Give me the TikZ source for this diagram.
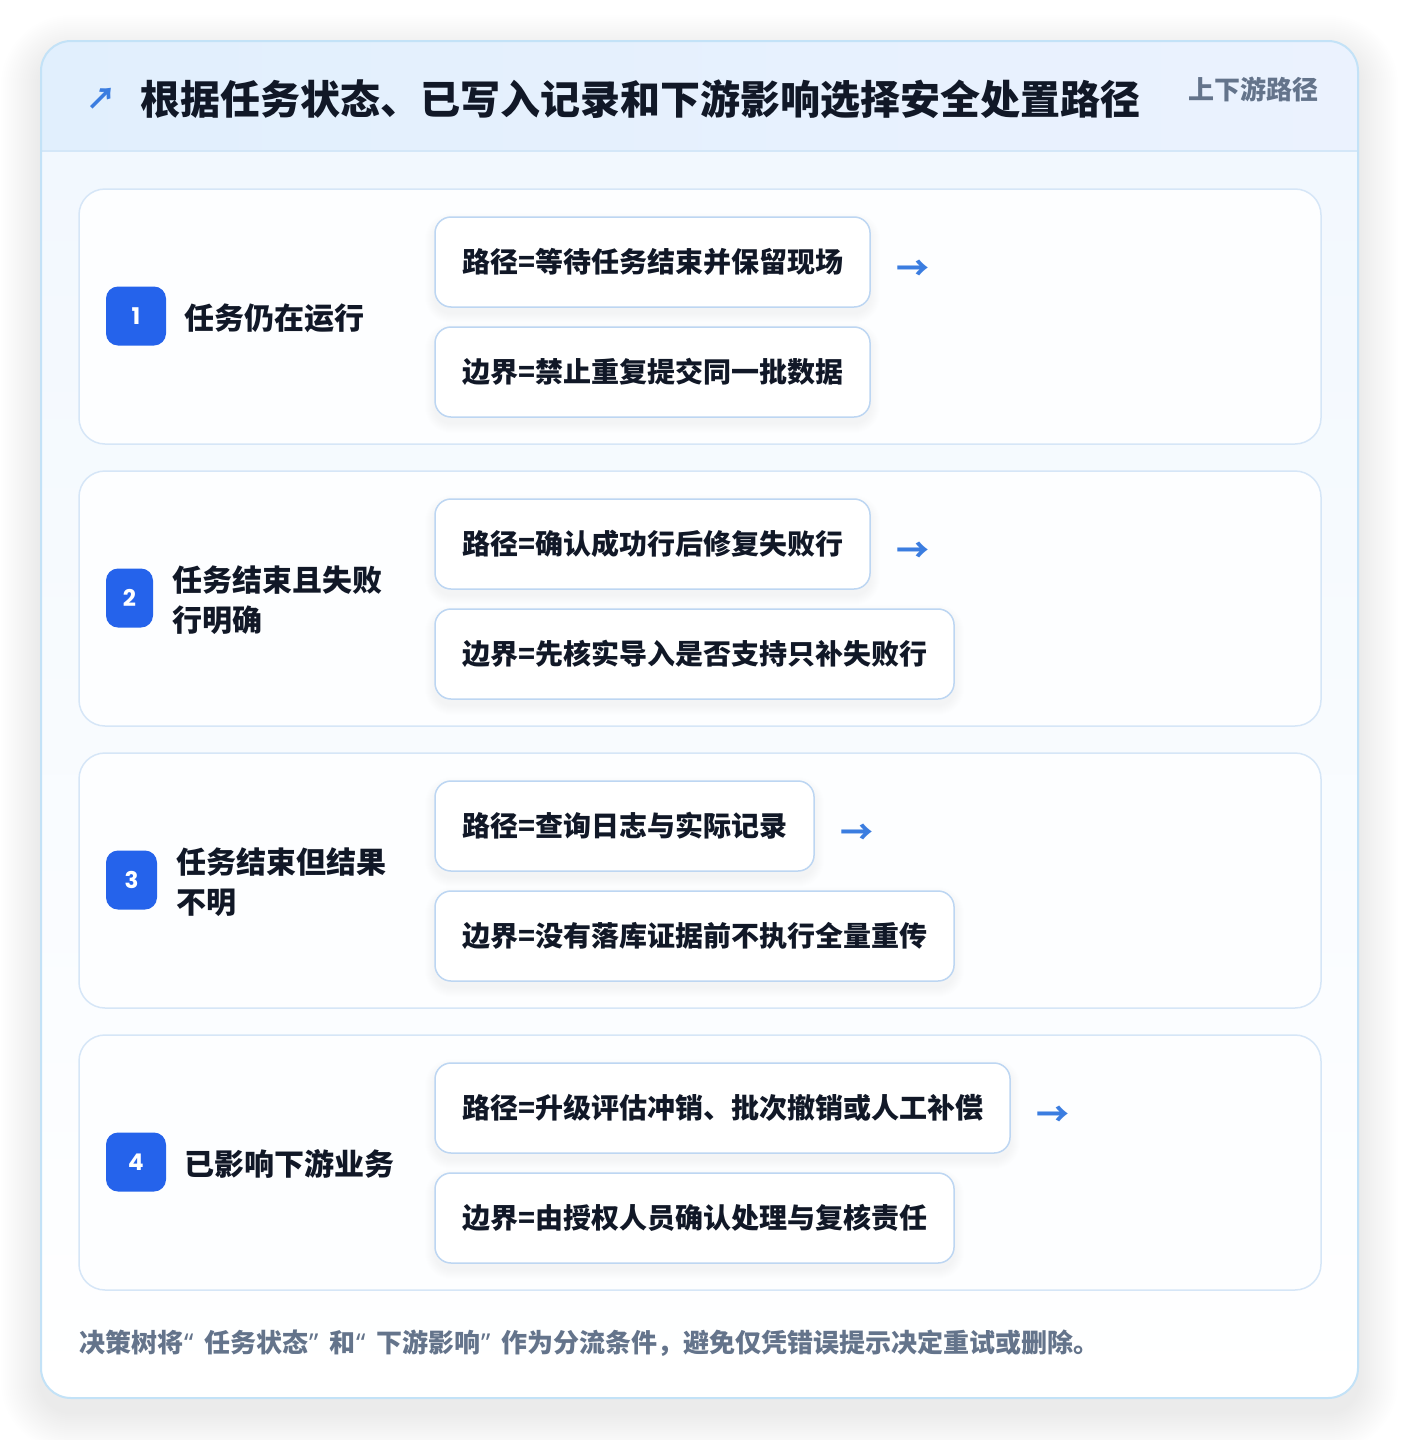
\documentclass[tikz,border=0pt]{standalone}
\usepackage{fontspec}
\setmainfont{Noto Sans CJK SC}
\newfontfamily\digitfont{Poppins}
\newfontfamily\quotefont{Noto Sans}
\pgfdeclarelayer{lzero}
\pgfdeclarelayer{lone}
\pgfdeclarelayer{ltwo}
\pgfsetlayers{lzero,lone,ltwo,main}
\definecolor{cardline}{HTML}{C3E2F7}
\definecolor{headl}{HTML}{E1EFFD}
\definecolor{headr}{HTML}{EBF2FE}
\definecolor{headsep}{HTML}{D4E7F8}
\definecolor{cardtop}{HTML}{F2F8FE}
\definecolor{rowline}{HTML}{D6E6F7}
\definecolor{rowfill}{HTML}{FDFEFF}
\definecolor{boxline}{HTML}{BDD6F2}
\definecolor{badgeblue}{HTML}{2563EB}
\definecolor{inkdark}{HTML}{111827}
\definecolor{inkgray}{HTML}{64748B}
\definecolor{arrowblue}{HTML}{3B7DE0}
\newcommand\boxshadow[1]{%
  \begin{pgfonlayer}{ltwo}
  \foreach \i in {1,...,10}{%
    \fill[black,opacity=0.005,rounded corners=16pt+\i pt]
      ([shift={(-\i,6-\i)}]#1.north west) rectangle ([shift={(\i,6+\i)}]#1.south east);
  }
  \end{pgfonlayer}}
\newcommand\myopenq{\makebox[21pt][l]{\kern1pt\quotefont “}}
\newcommand\mycloseq{\makebox[21pt][l]{\kern1pt\quotefont ”}}
\begin{document}
\begin{tikzpicture}[x=1pt,y=-1pt,
  every node/.style={inner sep=0pt,outer sep=0pt},
  rowcard/.style={draw=rowline,line width=1.5pt,fill=rowfill,rounded corners=26pt},
  pathbox/.style={draw=boxline,line width=1.5pt,fill=white,rounded corners=16pt,
    anchor=west,minimum height=90pt,inner xsep=27pt,
    font=\fontsize{28}{34}\selectfont\bfseries,text=inkdark},
  badge/.style={fill=badgeblue,rounded corners=12pt,text=white,
    font=\digitfont\fontsize{23}{26}\selectfont\bfseries},
  rowlabel/.style={anchor=west,align=left,text=inkdark,
    font=\fontsize{30}{40}\selectfont\bfseries},
  nextarrow/.style={anchor=west,text=arrowblue,font=\fontsize{33}{34}\selectfont\bfseries},
]
\useasboundingbox (0,0) rectangle (1400,1440);
\begin{pgfonlayer}{lzero}
\fill[white] (0,0) rectangle (1400,1440);
% card shadow
\foreach \i in {1,...,20}{%
  \fill[black,opacity=0.0045,rounded corners=30pt+2*\i pt]
    (41-2*\i,41-2*\i+14) rectangle (1358+2*\i,1398+2*\i+14);
}
\fill[top color=cardtop,bottom color=white,rounded corners=30pt] (41,151) rectangle (1358,1398);
\begin{scope}
  \clip[rounded corners=30pt] (41,41) rectangle (1358,1398);
  \fill[left color=headl,right color=headr] (41,41) rectangle (1358,151);
  \fill[cardtop] (41,151) rectangle (1358,200);
\end{scope}
\draw[headsep,line width=1.5pt] (42,151) -- (1357,151);
\draw[cardline,line width=2pt,rounded corners=30pt] (41,41) rectangle (1358,1398);
\end{pgfonlayer}
% header
\node[anchor=center,text=arrowblue,font=\fontsize{30}{34}\selectfont\bfseries] (icon) at (101,99) {↗};
\node[anchor=west,text=inkdark,font=\fontsize{40}{48}\selectfont\bfseries] (title) at (140,99)
  {根据任务状态、已写入记录和下游影响选择安全处置路径};
\node[anchor=east,text=inkgray,font=\fontsize{26}{30}\selectfont\bfseries] (tag) at (1318,89) {上下游路径};
% rows
\begin{pgfonlayer}{lone}
\foreach \k in {0,1,2,3}{%
  \draw[rowcard] (79,189+282*\k) rectangle (1321,444+282*\k);
}
\end{pgfonlayer}
% row 1
\node[badge,minimum width=60pt,minimum height=59pt] (b1) at (136,316) {1};
\node[rowlabel] (l1) at (184,318) {任务仍在运行};
\node[pathbox] (p1) at (435,262) {路径=等待任务结束并保留现场};
\node[pathbox] (e1) at (435,372) {边界=禁止重复提交同一批数据};
\node[nextarrow] (a1) at ([xshift=26pt,yshift=-8pt]p1.east) {→};
\boxshadow{p1}\boxshadow{e1}
% row 2
\node[badge,minimum width=47pt,minimum height=59pt] (b2) at (129.5,598) {2};
\node[rowlabel] (l2) at (172,600) {任务结束且失败\\行明确};
\node[pathbox] (p2) at (435,544) {路径=确认成功行后修复失败行};
\node[pathbox] (e2) at (435,654) {边界=先核实导入是否支持只补失败行};
\node[nextarrow] (a2) at ([xshift=26pt,yshift=-8pt]p2.east) {→};
\boxshadow{p2}\boxshadow{e2}
% row 3
\node[badge,minimum width=51pt,minimum height=59pt] (b3) at (131.5,880) {3};
\node[rowlabel] (l3) at (176,882) {任务结束但结果\\不明};
\node[pathbox] (p3) at (435,826) {路径=查询日志与实际记录};
\node[pathbox] (e3) at (435,936) {边界=没有落库证据前不执行全量重传};
\node[nextarrow] (a3) at ([xshift=26pt,yshift=-8pt]p3.east) {→};
\boxshadow{p3}\boxshadow{e3}
% row 4
\node[badge,minimum width=60pt,minimum height=59pt] (b4) at (136,1162) {4};
\node[rowlabel] (l4) at (184,1164) {已影响下游业务};
\node[pathbox] (p4) at (435,1108) {路径=升级评估冲销、批次撤销或人工补偿};
\node[pathbox] (e4) at (435,1218) {边界=由授权人员确认处理与复核责任};
\node[nextarrow] (a4) at ([xshift=26pt,yshift=-8pt]p4.east) {→};
\boxshadow{p4}\boxshadow{e4}
% footer
\node[anchor=west,text=inkgray,font=\fontsize{26}{30}\selectfont\bfseries] (note) at (79,1343)
  {决策树将\myopenq 任务状态\mycloseq 和\myopenq 下游影响\mycloseq 作为分流条件，避免仅凭错误提示决定重试或删除。};
\end{tikzpicture}
\end{document}
